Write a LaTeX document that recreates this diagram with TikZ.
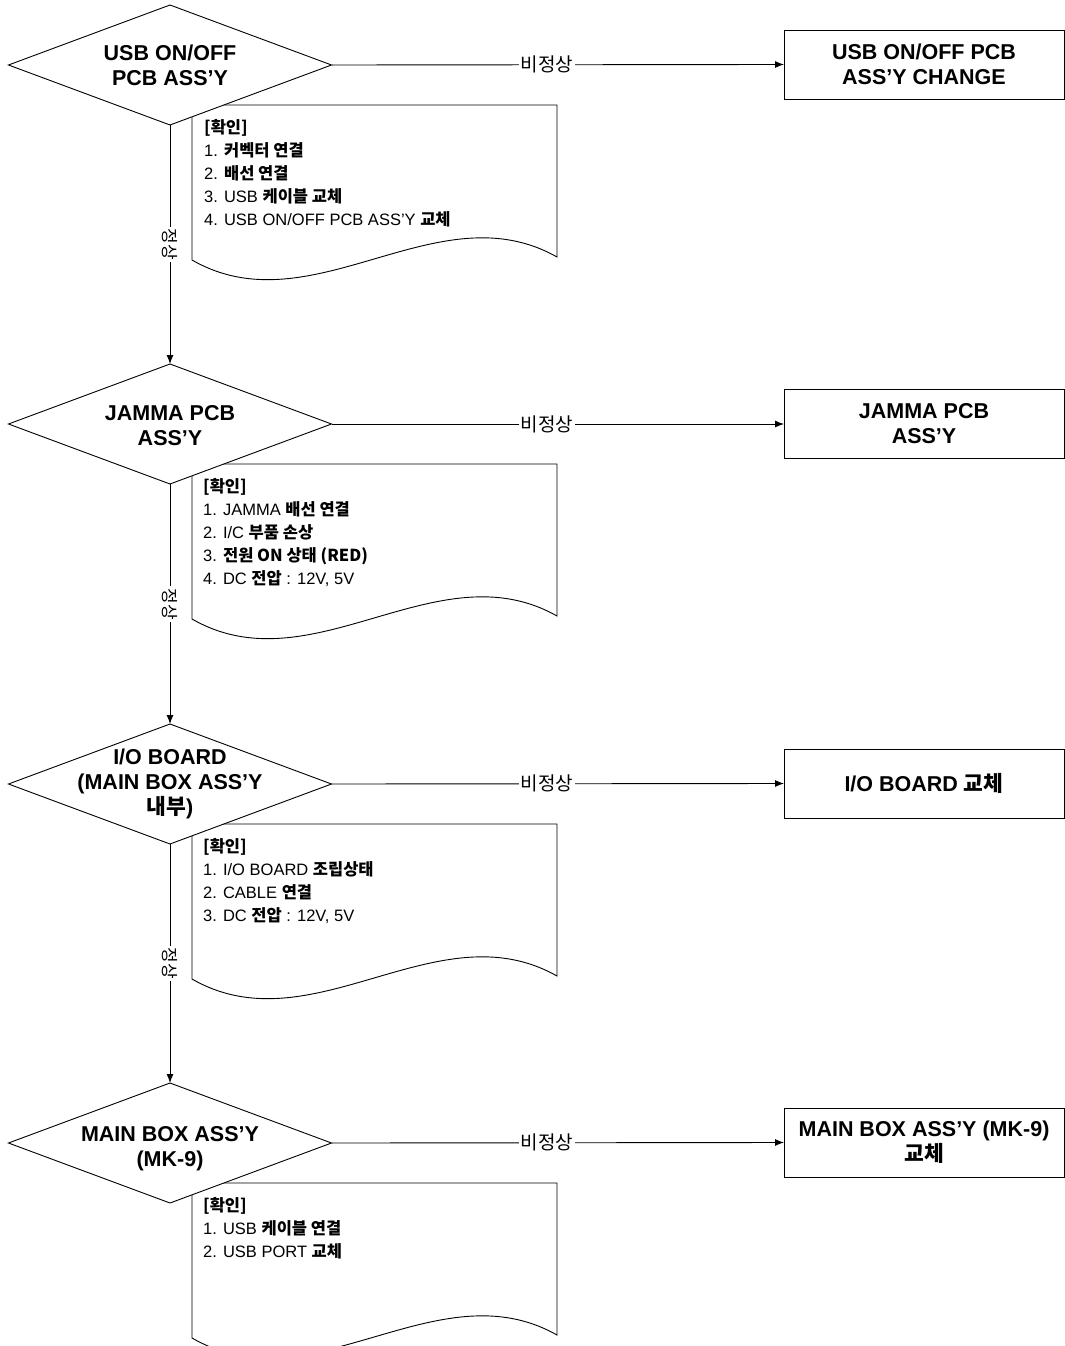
\documentclass[tikz,border=0pt]{standalone}
\usepackage{fontspec}
\setmainfont{Liberation Sans}
\newfontfamily\kr{Noto Sans CJK KR}
\usetikzlibrary{shapes.geometric,arrows.meta}
\newcommand\kb[1]{{\kr\bfseries #1}}
\begin{document}
\begin{tikzpicture}[x=1pt,y=-1pt,
  dia/.style={shape=diamond, draw=black, fill=white, line width=0.9pt, minimum width=323pt, minimum height=120pt, inner sep=0pt, outer sep=0pt},
  title/.style={font=\fontsize{21.5}{25}\selectfont\bfseries, align=center, inner sep=0pt},
  resbox/.style={draw=black, line width=0.9pt, minimum width=280pt, minimum height=69pt, inner sep=0pt, outer sep=0pt, font=\fontsize{21.5}{25}\selectfont\bfseries, align=center},
  doctext/.style={anchor=north west, font=\fontsize{16.5}{23}\selectfont, align=left, inner sep=0pt},
  flow/.style={line width=0.9pt, -{Latex[length=9pt,width=7pt]}},
  nolab/.style={fill=white, font=\kr\fontsize{19}{19}\selectfont, inner sep=2pt, pos=0.476},
  oklab/.style={fill=white, font=\kr\fontsize{17}{17}\selectfont, inner sep=2pt, rotate=-90, midway},
  docline/.style={draw=black, line width=0.9pt},
  pics/wavedoc/.style={code={
    \draw[docline] (0,0) -- (365,0) -- (365,152) .. controls (245,84) and (120,224) .. (0,155) -- cycle;
  }},
]
\clip (0,0) rectangle (1065,1346);
\useasboundingbox (0,0) rectangle (1065,1346);

% documents (behind the decisions)
\pic (doc1) at (192,105) {wavedoc};
\pic (doc2) at (192,464) {wavedoc};
\pic (doc3) at (192,824) {wavedoc};
\pic (doc4) at (192,1183) {wavedoc};

% decisions
\node[dia] (d1) at (170,65) {};
\node[dia] (d2) at (170,424) {};
\node[dia] (d3) at (170,784) {};
\node[dia] (d4) at (170,1143) {};

\node[title] (t1) at (170,65) {USB ON/OFF\\PCB ASS’Y};
\node[title] (t2) at (170,426) {JAMMA PCB\\ASS’Y};
\node[title] (t3) at (170,784) {I/O BOARD\\(MAIN BOX ASS’Y\\{\kr 내부})};
\node[title] (t4) at (170,1149) {MAIN BOX ASS’Y\\(MK-9)};

% results
\node[resbox] (r1) at (924,64.5) {USB ON/OFF PCB\\ASS’Y CHANGE};
\node[resbox] (r2) at (924,424) {JAMMA PCB\\ASS’Y};
\node[resbox] (r3) at (924,783.5) {I/O BOARD {\kr 교체}};
\node[resbox] (r4) at (924,1142.5) {MAIN BOX ASS’Y (MK-9)\\{\kr 교체}};

% document texts
\node[doctext] (n1) at (204,119) {\kb{[확인]}\\1. \kb{커벡터 연결}\\2. \kb{배선 연결}\\3. USB \kb{케이블 교체}\\4. USB ON/OFF PCB ASS’Y \kb{교체}};
\node[doctext] (n2) at (203,478) {\kb{[확인]}\\1. JAMMA \kb{배선 연결}\\2. I/C \kb{부품 손상}\\3. \kb{전원 ON 상태 (RED)}\\4. DC \kb{전압} : 12V, 5V};
\node[doctext] (n3) at (203,838) {\kb{[확인]}\\1. I/O BOARD \kb{조립상태}\\2. CABLE \kb{연결}\\3. DC \kb{전압} : 12V, 5V};
\node[doctext] (n4) at (203,1197) {\kb{[확인]}\\1. USB \kb{케이블 연결}\\2. USB PORT \kb{교체}};

% connectors
\draw[flow] (d1.east) -- node[nolab]{비정상} (r1.west);
\draw[flow] (d2.east) -- node[nolab]{비정상} (r2.west);
\draw[flow] (d3.east) -- node[nolab]{비정상} (r3.west);
\draw[flow] (d4.east) -- node[nolab]{비정상} (r4.west);

\draw[flow] (d1.south) -- node[oklab]{정상} (d2.north);
\draw[flow] (d2.south) -- node[oklab]{정상} (d3.north);
\draw[flow] (d3.south) -- node[oklab]{정상} (d4.north);
\end{tikzpicture}
\end{document}
